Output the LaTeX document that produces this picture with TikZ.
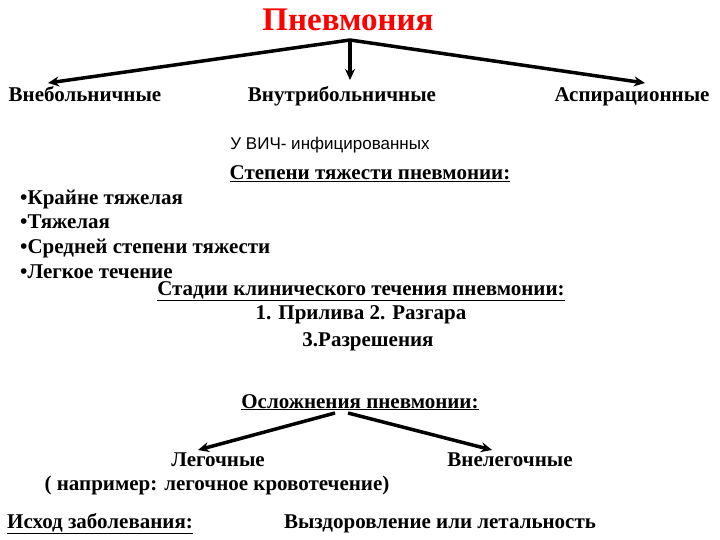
\documentclass[tikz,border=0pt]{standalone}
\usepackage{fontspec}
\setmainfont{Liberation Serif}
\newfontfamily\sansf{Liberation Sans}
\usetikzlibrary{arrows.meta}
\begin{document}
\begin{tikzpicture}[x=1pt,y=-1pt,
  txt/.style={font=\fontsize{21}{23}\selectfont\bfseries, inner sep=0pt, text height=14pt, text depth=4pt},
  arr/.style={-{Stealth[length=11pt,width=10pt]}, line width=3.5pt}]
\useasboundingbox (0,0) rectangle (720,540);
\node[txt, text=red, font=\fontsize{33}{35}\selectfont\bfseries, text height=22pt] (title) at (348,22) {Пневмония};
\coordinate (o) at (350,40);
\node[txt] (vne) at (85,97) {Внебольничные};
\node[txt] (vnu) at (342,97) {Внутрибольничные};
\node[txt] (asp) at (632,97) {Аспирационные};
\draw[arr] (o) -- (48,83);
\draw[arr] (o) -- (350,80);
\draw[arr] (o) -- (645,83);
\node[inner sep=0pt, font=\sansf\fontsize{17}{19}\selectfont] (vich) at (330,145) {У ВИЧ- инфицированных};
\node[txt] (step) at (370,175) {\underline{Степени тяжести пневмонии:}};
\node[txt, anchor=west] (b1) at (20,200) {•Крайне тяжелая};
\node[txt, anchor=west] (b2) at (20,224) {•Тяжелая};
\node[txt, anchor=west] (b3) at (20,248) {•Средней степени тяжести};
\node[txt, anchor=west] (b4) at (20,273) {•Легкое течение};
\node[txt] (stad) at (361,290) {\underline{Стадии клинического течения пневмонии:}};
\node[txt] (s1) at (361,314) {1. Прилива 2. Разгара};
\node[txt] (s2) at (368,341) {3.Разрешения};
\node[txt] (osl) at (360,403) {\underline{Осложнения пневмонии:}};
\node[txt] (leg) at (218,461) {Легочные};
\node[txt] (legn) at (217,485) {( например: легочное кровотечение)};
\node[txt] (vnl) at (510,461) {Внелегочные};
\draw[arr] (335,413) -- (198,450);
\draw[arr] (348,413) -- (492,450);
\node[txt, anchor=west] (ish) at (7,523) {\underline{Исход заболевания:}};
\node[txt] (vyz) at (440,523) {Выздоровление или летальность};
\end{tikzpicture}
\end{document}
